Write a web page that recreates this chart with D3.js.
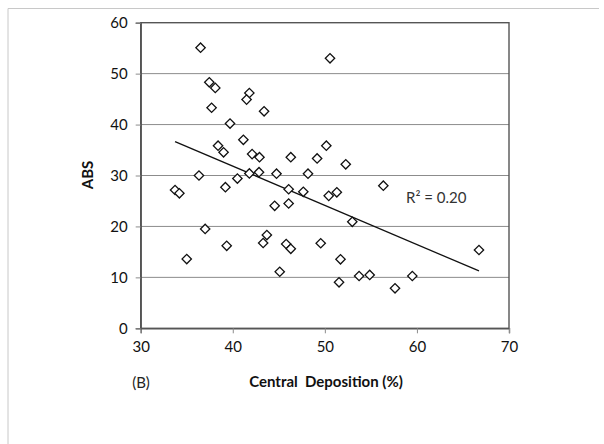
<!DOCTYPE html>
<html>
<head>
<meta charset="utf-8">
<script src="https://cdn.jsdelivr.net/npm/d3@7/dist/d3.min.js"></script>
<style>
  body { margin: 0; background: #fff; }
  svg { display: block; font-family: Lato, "Open Sans", sans-serif; }
  text { white-space: pre; }
</style>
</head>
<body>
<svg id="chart" width="604" height="444"></svg>
<script>
// central deposition (%) and ABS
const deposition = [36.5, 37.45, 38.1, 37.7, 41.8, 41.5, 43.4, 39.7, 41.15, 38.4,
  39.0, 42.1, 42.9, 36.33, 40.5, 41.8, 42.85, 44.75, 50.56, 50.16,
  46.3, 49.16, 52.27, 48.17, 33.73, 34.2, 39.2, 44.55, 37.0, 39.34,
  35.0, 43.7, 43.3, 45.1, 46.07, 47.66, 46.07, 50.42, 51.3, 56.35,
  52.98, 45.8, 46.3, 49.55, 51.7, 51.54, 53.72, 54.87, 66.74, 59.5, 57.62]
const abs = [55.1, 48.3, 47.2, 43.3, 46.2, 44.9, 42.6, 40.2, 37.0, 35.85,
  34.55, 34.2, 33.6, 30.0, 29.4, 30.4, 30.65, 30.35, 53.0, 35.85,
  33.6, 33.35, 32.2, 30.35, 27.15, 26.5, 27.7, 24.05, 19.5, 16.2,
  13.6, 18.3, 16.75, 11.1, 27.3, 26.8, 24.5, 26.0, 26.7, 28.0,
  20.9, 16.55, 15.6, 16.7, 13.55, 9.03, 10.27, 10.47, 15.37, 10.27, 7.85]
const xTicks = [30, 40, 50, 60, 70]
const yTicks = [0, 10, 20, 30, 40, 50, 60]
const r2Label = "R\u00b2 = 0.20"

const svg = d3.select("#chart")
const plotL = 140.7, plotR = 509, plotT = 22.7, plotB = 328.3

const x = d3.scaleLinear().domain([30, 70]).range([plotL, plotR])
const y = d3.scaleLinear().domain([0, 60]).range([plotB, plotT])

// outer frame (light grey, only top and left visible)
svg.append("path")
    .attr("d", "M8,444 L8,8.5 L599,8.5")
    .attr("fill", "none")
    .attr("stroke", "#c8c8c8")
    .attr("stroke-width", 1)

// gridlines
svg.append("g")
    .selectAll("line")
    .data(yTicks.filter(d => d > 0 && d < 60))
    .enter().append("line")
    .attr("x1", plotL).attr("x2", plotR)
    .attr("y1", d => y(d)).attr("y2", d => y(d))
    .attr("stroke", "#8c8c8c")
    .attr("stroke-width", 1)

// plot border
svg.append("rect")
    .attr("x", plotL).attr("y", plotT)
    .attr("width", plotR - plotL).attr("height", plotB - plotT)
    .attr("fill", "none")
    .attr("stroke", "#555")
    .attr("stroke-width", 1.4)

const xAxis = svg.append("g")
    .attr("transform", `translate(0,${plotB})`)
    .call(d3.axisBottom(x).tickValues(xTicks).tickSize(5).tickPadding(8))
const yAxis = svg.append("g")
    .attr("transform", `translate(${plotL},0)`)
    .call(d3.axisLeft(y).tickValues(yTicks).tickSize(5).tickPadding(8))

;[xAxis, yAxis].forEach(g => {
    g.select(".domain").attr("stroke", "#555").attr("stroke-width", 1.4)
    g.selectAll(".tick line").attr("stroke", "#8c8c8c")
    g.selectAll("text")
        .attr("font-family", "Lato, 'Open Sans', sans-serif")
        .attr("font-size", 15)
        .attr("fill", "#111")
})

// trend line (least squares, drawn across the data range like excel does)
const n = deposition.length
const mx = d3.mean(deposition), my = d3.mean(abs)
let sxy = 0, sxx = 0
for (let i = 0; i < n; i++) {
    sxy += (deposition[i] - mx) * (abs[i] - my)
    sxx += (deposition[i] - mx) * (deposition[i] - mx)
}
const slope = sxy / sxx, intercept = my - slope * mx
const ext = d3.extent(deposition)
svg.append("line")
    .attr("x1", x(ext[0])).attr("y1", y(intercept + slope * ext[0]))
    .attr("x2", x(ext[1])).attr("y2", y(intercept + slope * ext[1]))
    .attr("stroke", "#111")
    .attr("stroke-width", 1.3)

// diamonds
const diamond = d3.symbol().type(d3.symbolSquare).size(44)
svg.append("g")
    .selectAll("path")
    .data(deposition)
    .enter().append("path")
    .attr("d", diamond)
    .attr("transform", (d, i) => `translate(${x(d)},${y(abs[i])}) rotate(45)`)
    .attr("fill", "#fff")
    .attr("stroke", "#111")
    .attr("stroke-width", 1.3)

svg.append("text")
    .attr("x", 406).attr("y", 203)
    .attr("font-size", 15)
    .attr("fill", "#333")
    .text(r2Label)

svg.append("text")
    .attr("transform", "translate(93,175) rotate(-90)")
    .attr("text-anchor", "middle")
    .attr("font-size", 15)
    .attr("font-weight", "bold")
    .attr("fill", "#111")
    .text("ABS")

svg.append("text")
    .attr("x", 326).attr("y", 387)
    .attr("text-anchor", "middle")
    .attr("font-size", 15)
    .attr("font-weight", "bold")
    .attr("fill", "#111")
    .text("Central  Deposition (%)")

svg.append("text")
    .attr("x", 141).attr("y", 388)
    .attr("text-anchor", "middle")
    .attr("font-size", 15)
    .attr("fill", "#222")
    .text("(B)")
</script>
</body>
</html>
